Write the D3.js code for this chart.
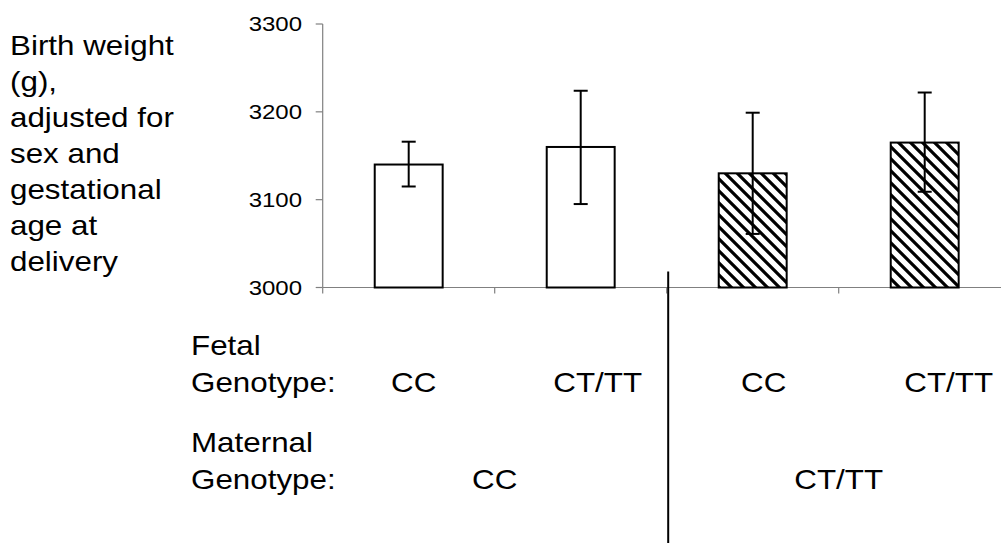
<!DOCTYPE html>
<html>
<head>
<meta charset="utf-8">
<script src="https://cdn.jsdelivr.net/npm/d3@7"></script>
<style>
  html, body { margin: 0; padding: 0; background: #fff; }
  svg { display: block; }
  text { font-family: "Liberation Sans", Arial, Helvetica, sans-serif; fill: #000; }
</style>
</head>
<body>
<svg id="chart" width="1001" height="543"></svg>
<script>
// ---- data ----
const fetalGenotype = ["CC", "CT/TT", "CC", "CT/TT"];
const maternalGenotype = ["CC", "CC", "CT/TT", "CT/TT"];
const maternalGroups = ["CC", "CT/TT"];
const meanWeight = [3140, 3160, 3130, 3165];
const errLow = [3115, 3095, 3061, 3109];
const errHigh = [3166, 3224, 3199, 3222];
const hatched = [false, false, true, true];
const yTicks = [3000, 3100, 3200, 3300];
const yTitleLines = ["Birth weight", "(g),", "adjusted for", "sex and", "gestational", "age at", "delivery"];
const rowTitles = [["Fetal", "Genotype:"], ["Maternal", "Genotype:"]];

// ---- layout ----
const W = 1001, H = 543;
const sxTitle = 1.12, sxTick = 1.2;   // horizontal text stretch of the original
const fetalLabelShift = [5, 17, 11, 24];
const svg = d3.select("#chart");

const y = d3.scaleLinear().domain([3000, 3300]).range([287.5, 24]);
const x = d3.scaleBand().domain(d3.range(fetalGenotype.length)).range([322.7, 1010.7]).paddingInner(0).paddingOuter(0);
const bw = x.bandwidth() * 0.395;

// hatch pattern
const defs = svg.append("defs");
const pat = defs.append("pattern")
  .attr("id", "hatch").attr("patternUnits", "userSpaceOnUse")
  .attr("width", 12).attr("height", 12);
pat.append("rect").attr("width", 12).attr("height", 12).attr("fill", "#fff");
pat.append("path")
  .attr("d", "M-3,-3L15,15M-3,9L3,15M9,-3L15,3")
  .attr("stroke", "#000").attr("stroke-width", 3.2);

function stretchedText(sel, tx, ty, anchor, size, sx) {
  return sel.append("text")
    .attr("transform", `translate(${tx},${ty}) scale(${sx},1)`)
    .attr("text-anchor", anchor)
    .style("font-size", size + "px");
}

// y axis
const gy = svg.append("g");
gy.append("line").attr("x1", x.range()[0]).attr("x2", x.range()[0])
  .attr("y1", y(3300)).attr("y2", y(3000)).attr("stroke", "#808080").attr("stroke-width", 1.2);
yTicks.forEach(t => {
  gy.append("line").attr("x1", x.range()[0] - 7).attr("x2", x.range()[0])
    .attr("y1", y(t)).attr("y2", y(t)).attr("stroke", "#808080").attr("stroke-width", 1.2);
  stretchedText(gy, 302, y(t), "end", 20, sxTick).attr("dy", "0.35em").text(t);
});

// x axis
const gx = svg.append("g");
gx.append("line").attr("x1", x.range()[0]).attr("x2", W + 20)
  .attr("y1", y(3000)).attr("y2", y(3000)).attr("stroke", "#808080").attr("stroke-width", 1.2);
d3.range(fetalGenotype.length).forEach(i => {
  gx.append("line").attr("x1", x(i)).attr("x2", x(i))
    .attr("y1", y(3000)).attr("y2", y(3000) + 6).attr("stroke", "#808080").attr("stroke-width", 1.2);
});

// bars
svg.append("g").selectAll("rect").data(meanWeight).join("rect")
  .attr("x", (d, i) => x(i) + x.bandwidth() / 2 - bw / 2)
  .attr("width", bw)
  .attr("y", d => y(d))
  .attr("height", d => y(3000) - y(d))
  .attr("fill", (d, i) => hatched[i] ? "url(#hatch)" : "#fff")
  .attr("stroke", "#000").attr("stroke-width", 2);

// error bars
const ge = svg.append("g").attr("stroke", "#000").attr("stroke-width", 2);
meanWeight.forEach((d, i) => {
  const cx = x(i) + x.bandwidth() / 2;
  ge.append("line").attr("x1", cx).attr("x2", cx).attr("y1", y(errHigh[i])).attr("y2", y(errLow[i]));
  [errHigh[i], errLow[i]].forEach(v => {
    ge.append("line").attr("x1", cx - 7).attr("x2", cx + 7).attr("y1", y(v)).attr("y2", y(v));
  });
});

// divider between maternal groups
svg.append("line").attr("x1", x(2) + 1.5).attr("x2", x(2) + 1.5)
  .attr("y1", 271.5).attr("y2", H).attr("stroke", "#000").attr("stroke-width", 2);

// y title
yTitleLines.forEach((l, i) => {
  stretchedText(svg, 10, 55 + i * 36, "start", 28, sxTitle).text(l);
});

// row titles
stretchedText(svg, 191, 355, "start", 28, sxTitle).text(rowTitles[0][0]);
stretchedText(svg, 191, 392, "start", 28, sxTitle).text(rowTitles[0][1]);
stretchedText(svg, 191, 452, "start", 28, sxTitle).text(rowTitles[1][0]);
stretchedText(svg, 191, 488.5, "start", 28, sxTitle).text(rowTitles[1][1]);

// fetal labels
fetalGenotype.forEach((g, i) => {
  stretchedText(svg, x(i) + x.bandwidth() / 2 + fetalLabelShift[i], 392, "middle", 28, sxTitle).text(g);
});

// maternal labels
maternalGroups.forEach((g, j) => {
  const idx = maternalGenotype.map((m, i) => m === g ? i : -1).filter(i => i >= 0);
  const cx = (x(idx[0]) + x(idx[idx.length - 1]) + x.bandwidth()) / 2;
  stretchedText(svg, cx, 488.5, "middle", 28, sxTitle).text(g);
});
</script>
</body>
</html>
